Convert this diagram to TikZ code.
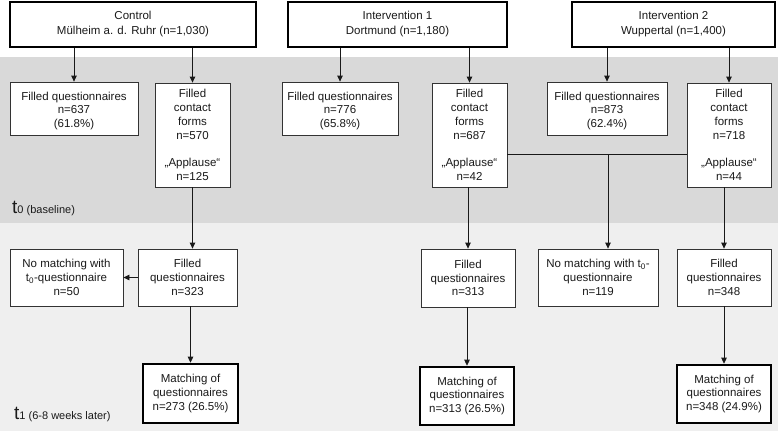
\documentclass[tikz,border=0pt]{standalone}
\usepackage{fontspec}
\setmainfont{Liberation Sans}
\usetikzlibrary{arrows.meta}
\definecolor{bandA}{HTML}{D9D9D9}
\definecolor{bandB}{HTML}{EFEFEF}
\definecolor{ink}{HTML}{1A1A1A}
\begin{document}
\begin{tikzpicture}[x=1pt,y=-1pt,
  box/.style={draw=black!80, line width=0.8pt, fill=white, align=center, inner sep=0pt,
    font=\fontsize{11.5}{13.8}\selectfont, text=ink},
  tbox/.style={box, draw=black, line width=2.6pt},
  topbox/.style={tbox, font=\fontsize{11.5}{15}\selectfont},
  arr/.style={-{Triangle[length=6pt,width=5.5pt]}, line width=0.8pt, draw=black!90},
  ln/.style={line width=0.8pt, draw=black!90},
  lbl/.style={anchor=base west, inner sep=0pt, text=ink}
]
\useasboundingbox (0,0) rectangle (778,432);
\fill[bandA] (0,57) rectangle (778,223);
\fill[bandB] (0,223) rectangle (778,431);

% top boxes
\node[topbox, minimum width=246pt, minimum height=45pt] (C) at (133,24.5) {Control\\Mülheim a. d. Ruhr (n=1,030)};
\node[topbox, minimum width=219pt, minimum height=45pt] (I1) at (397.5,24.5) {Intervention 1\\Dortmund (n=1,180)};
\node[topbox, minimum width=203pt, minimum height=45pt] (I2) at (673.5,24.5) {Intervention 2\\Wuppertal (n=1,400)};

% t0 boxes
\node[box, minimum width=128pt, minimum height=53pt] (CQ) at (74,108.5) {\rule{0pt}{13pt}Filled questionnaires\\n=637\\(61.8\%)};
\node[box, minimum width=75pt, minimum height=104pt] (CC) at (192.5,135) {Filled\\contact\\forms\\n=570\\[13.8pt]„Applause“\\n=125};
\node[box, minimum width=116pt, minimum height=53pt] (I1Q) at (340,108.5) {\rule{0pt}{13pt}Filled questionnaires\\n=776\\(65.8\%)};
\node[box, minimum width=75pt, minimum height=104pt] (I1C) at (469.5,135) {Filled\\contact\\forms\\n=687\\[13.8pt]„Applause“\\n=42};
\node[box, minimum width=120pt, minimum height=53pt] (I2Q) at (607,108.5) {\rule{0pt}{13pt}Filled questionnaires\\n=873\\(62.4\%)};
\node[box, minimum width=84pt, minimum height=104pt] (I2C) at (729,135) {Filled\\contact\\forms\\n=718\\[13.8pt]„Applause“\\n=44};

% t1 boxes
\node[box, minimum width=113pt, minimum height=57pt] (NMC) at (66.5,277.5) {No matching with\\t\textsubscript{0}-questionnaire\\n=50};
\node[box, minimum width=99pt, minimum height=57pt] (FQC) at (187.5,277.5) {Filled\\questionnaires\\n=323};
\node[tbox, minimum width=95pt, minimum height=59pt] (MC) at (190.5,393.5) {Matching of\\questionnaires\\n=273 (26.5\%)};
\node[box, minimum width=94pt, minimum height=58pt] (I1F) at (468,278) {Filled\\questionnaires\\n=313};
\node[box, minimum width=120pt, minimum height=57pt] (NMI) at (598,277.5) {No matching with t\textsubscript{0}-\\questionnaire\\n=119};
\node[box, minimum width=94pt, minimum height=57pt] (I2F) at (724,277.5) {Filled\\questionnaires\\n=348};
\node[tbox, minimum width=94pt, minimum height=58pt] (MI1) at (467,396) {Matching of\\questionnaires\\n=313 (26.5\%)};
\node[tbox, minimum width=94pt, minimum height=58pt] (MI2) at (724,394) {Matching of\\questionnaires\\n=348 (24.9\%)};

% phase labels
\node[lbl] (T0) at (12,213) {\fontsize{19}{19}\selectfont t\raisebox{-0.5pt}{\fontsize{11}{11}\selectfont 0 (baseline)}};
\node[lbl] (T1) at (14,419) {\fontsize{19}{19}\selectfont t\raisebox{-0.5pt}{\fontsize{11}{11}\selectfont 1 (6-8 weeks later)}};

% arrows top
\draw[arr] (C.south -| CQ.north) -- (CQ.north);
\draw[arr] (C.south -| CC.north) -- (CC.north);
\draw[arr] (I1.south -| I1Q.north) -- (I1Q.north);
\draw[arr] (I1.south -| I1C.north) -- (I1C.north);
\draw[arr] (I2.south -| I2Q.north) -- (I2Q.north);
\draw[arr] (I2.south -| I2C.north) -- (I2C.north);

% control flow
\draw[arr] (CC.south) -- (CC.south |- FQC.north);
\draw[arr] (FQC.west) -- (NMC.east);
\draw[arr] (FQC.south -| MC.north) -- (MC.north);

% intervention flows
\draw[arr] (I1C.south -| I1F.north) -- (I1F.north);
\draw[arr] (I1F.south -| MI1.north) -- (MI1.north);
\draw[arr] (I2C.south -| I2F.north) -- (I2F.north);
\draw[arr] (I2F.south) -- (MI2.north);

\coordinate (J) at (608,154);
\draw[ln] (I1C.east |- J) -- (I2C.west |- J);
\draw[arr] (J) -- (J |- NMI.north);
\end{tikzpicture}
\end{document}
